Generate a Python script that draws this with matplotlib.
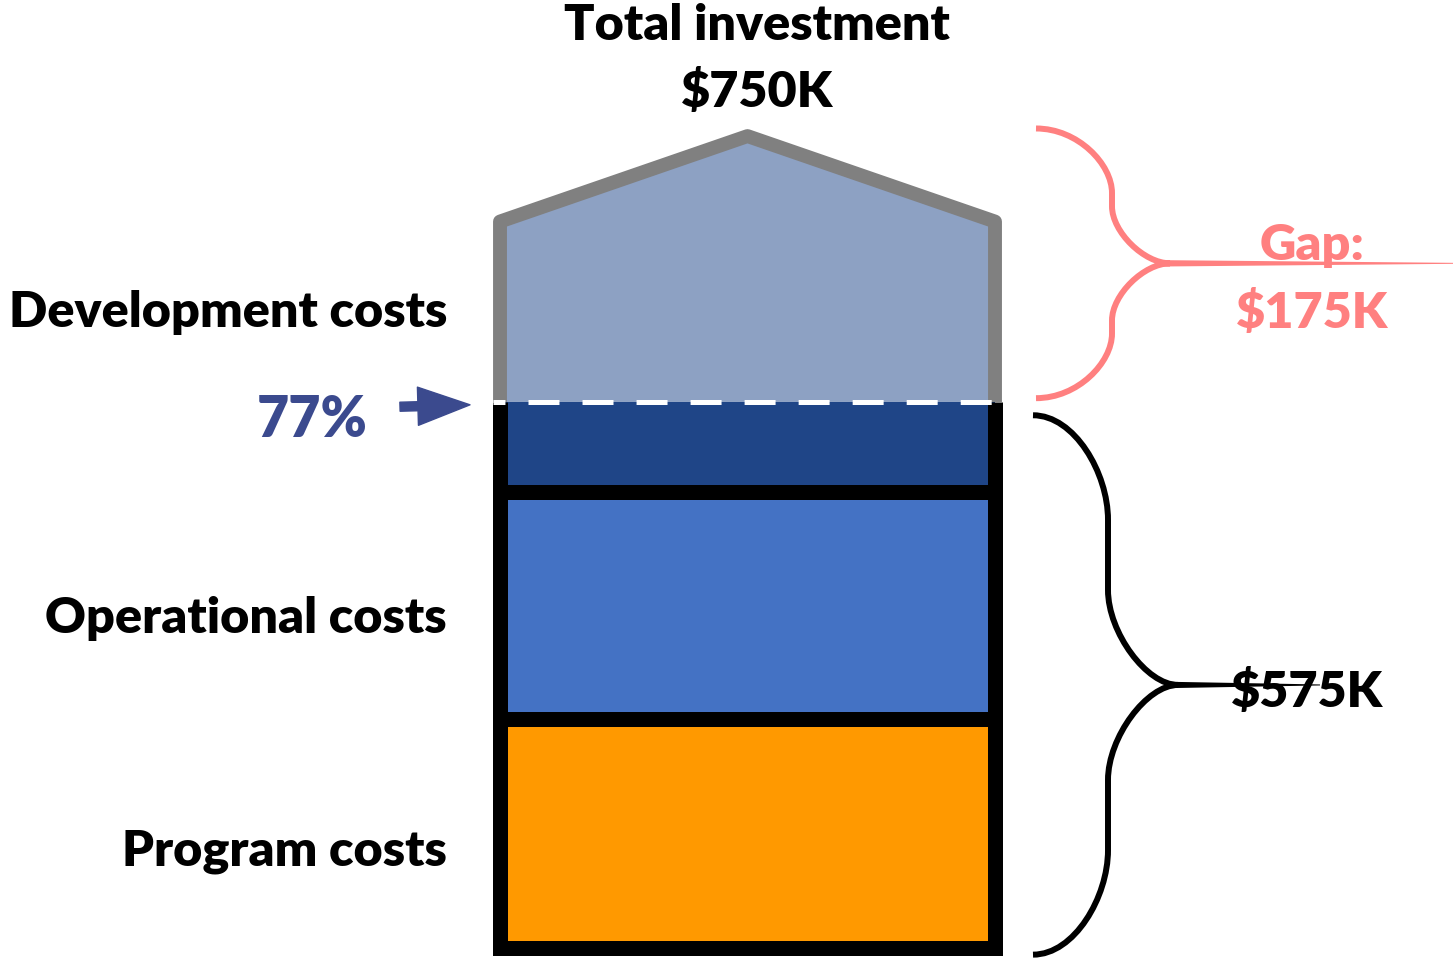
import numpy as np
import matplotlib.pyplot as plt
from matplotlib.path import Path
from matplotlib.patches import PathPatch, Polygon

plt.rcParams['font.family'] = ['Lato', 'DejaVu Sans']
plt.rcParams['lines.scale_dashes'] = False

# data ($K)
segments = ['Program costs', 'Operational costs', 'Development costs']
values = [241, 239, 95]
colors = ['#FF9900', '#4472C4', '#1F4587']
total = 750
funded = sum(values)
gap = total - funded
pct = round(funded / total * 100)

bottoms = np.concatenate([[0], np.cumsum(values)[:-1]])
label_y = [102, 347, 669]

# roof of the "house"
roof_side = total * 1.02
roof_peak = total * 1.14

x_left, x_right = 500, 995
x_mid = (x_left + x_right) / 2
width = x_right - x_left

fs = 36.3
fw = 'heavy'

fig = plt.figure(figsize=(14.53, 9.63), dpi=100)
ax = fig.add_axes([0, 0, 1, 1])
ax.set_xlim(0, 1453)
ax.set_ylim(-15.8, 998.3)
ax.axis('off')
px = 963 / (998.3 + 15.8)  # pixels per $K

# gap area
roof = [(x_left, funded), (x_left, roof_side), (x_mid, roof_peak),
        (x_right, roof_side), (x_right, funded)]
ax.add_patch(Polygon(roof, closed=True, facecolor='#8DA1C3', edgecolor='none', zorder=1))
rx, ry = zip(*roof)
ax.plot(rx, ry, color='#808080', lw=10, solid_joinstyle='round', solid_capstyle='butt', zorder=3)

# funded stack
ax.bar(x_mid, values, bottom=bottoms, width=width, color=colors, linewidth=0, zorder=2)
ax.plot([x_left, x_left, x_right, x_right], [funded, 0, 0, funded],
        color='black', lw=10.8, solid_joinstyle='miter', solid_capstyle='butt', zorder=3)
ax.hlines(bottoms[1:], x_left, x_right, color='black', lw=10.8, zorder=3)
ax.plot([x_left - 7, x_right + 7], [funded, funded], color='white', lw=3.6,
        linestyle=(0, (8.6, 16.6) + (22.3, 16.6) * 9), zorder=4)

# labels
for name, y in zip(segments, label_y):
    ax.text(447, y, name, ha='right', va='center', fontsize=fs, fontweight=fw)

ax.text(757, 971, 'Total investment', ha='center', va='center', fontsize=fs, fontweight=fw)
ax.text(757, 901, f'${total}K', ha='center', va='center', fontsize=fs, fontweight=fw)

ax.text(312, 556, f'{pct}%', ha='center', va='center', fontsize=40, fontweight=fw,
        color='#3B4A8E')
ax.annotate('', xy=(470, funded - 3), xytext=(400, funded - 5),
            arrowprops=dict(arrowstyle='simple,head_length=0.75,head_width=0.55,tail_width=0.13',
                            mutation_scale=50, color='#3B4A8E', shrinkA=0, shrinkB=0))


def brace(x0, x1, x2, y_bot, y_top, r_end, r_tip, x_end, color):
    k = 0.552
    y_tip = (y_bot + y_top) / 2
    verts = [(x0, y_top),
             (x0 + k * (x1 - x0), y_top), (x1, y_top - k * r_end), (x1, y_top - r_end),
             (x1, y_tip + r_tip),
             (x1, y_tip + k * r_tip), (x1 + k * (x2 - x1), y_tip), (x2, y_tip),
             (x1 + k * (x2 - x1), y_tip), (x1, y_tip - k * r_tip), (x1, y_tip - r_tip),
             (x1, y_bot + r_end),
             (x1, y_bot + k * r_end), (x0 + k * (x1 - x0), y_bot), (x0, y_bot)]
    codes = [Path.MOVETO] + [Path.CURVE4] * 3 + [Path.LINETO] + [Path.CURVE4] * 6 \
        + [Path.LINETO] + [Path.CURVE4] * 3
    ax.add_patch(PathPatch(Path(verts, codes), fill=False, edgecolor=color, lw=4.3,
                           capstyle='butt', zorder=3))
    # tapering stem
    h0, h1 = 3.2 / px, 0.5 / px
    ax.fill([x2 - 10, x_end, x_end, x2 - 10],
            [y_tip + h0, y_tip + h1, y_tip - h1, y_tip - h0], color=color, lw=0, zorder=3)
    return y_tip


brace(1036, 1112, 1170, funded + 4, roof_peak + 8, 68, 60, 1453, '#FF8080')
ax.text(1312, 740, 'Gap:', ha='center', va='center', fontsize=fs, fontweight=fw,
        color='#FF8080', zorder=2)
ax.text(1312, 669, f'${gap}K', ha='center', va='center', fontsize=fs, fontweight=fw,
        color='#FF8080', zorder=2)

brace(1033, 1108, 1178, -7, funded - 14, 110, 100, 1320, 'black')
ax.text(1307, 270, f'${funded}K', ha='center', va='center', fontsize=fs, fontweight=fw,
        zorder=2)

fig.savefig('out.png', dpi=100)
